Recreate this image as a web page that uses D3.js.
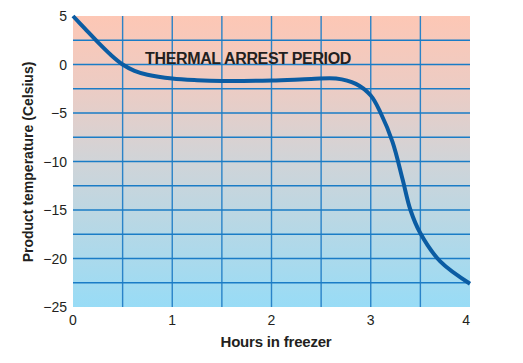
<!DOCTYPE html>
<html><head><meta charset="utf-8">
<script src="https://cdn.jsdelivr.net/npm/d3@7"></script>
<style>
body{margin:0;background:#fff;}
text{font-family:"Liberation Sans",Arial,Helvetica,sans-serif;}
</style></head>
<body><svg id="c" width="523" height="363"></svg>
<script>
const hours = [0, 0.12, 0.25, 0.38, 0.5, 0.62, 0.75, 1.0, 1.25, 1.5, 2.0, 2.4, 2.65, 2.85, 3.0, 3.1, 3.22, 3.32, 3.4, 3.5, 3.7, 4.0];
const temps = [5, 3.7, 2.3, 1.0, 0, -0.65, -1.05, -1.45, -1.62, -1.7, -1.65, -1.5, -1.45, -2.0, -3.2, -5.0, -8.0, -11.8, -15.0, -17.4, -20.3, -22.6];
const xTicks = [0, 1, 2, 3, 4];
const yTicks = [5, 0, -5, -10, -15, -20, -25];
const xGrid = [0.5, 1, 1.5, 2, 2.5, 3, 3.5];
const yGrid = [2.5, 0, -2.5, -5, -7.5, -10, -12.5, -15, -17.5, -20, -22.5];
const title = "THERMAL ARREST PERIOD";
const xTitle = "Hours in freezer";
const yTitle = "Product temperature (Celsius)";

const L = 73, R = 470, T = 16, B = 307;
const svg = d3.select("#c");
const x = d3.scaleLinear().domain([0, 4]).range([L, R]);
const y = d3.scaleLinear().domain([-25, 5]).range([B, T]);

const defs = svg.append("defs");
const g = defs.append("linearGradient").attr("id", "bg").attr("x1", 0).attr("y1", 0).attr("x2", 0).attr("y2", 1);
g.append("stop").attr("offset", "0%").attr("stop-color", "#fdc7b5");
g.append("stop").attr("offset", "25%").attr("stop-color", "#ecccc4");
g.append("stop").attr("offset", "50%").attr("stop-color", "#d0d4d8");
g.append("stop").attr("offset", "100%").attr("stop-color", "#98dcf6");

svg.append("rect").attr("x", L).attr("y", T).attr("width", R - L).attr("height", B - T).attr("fill", "url(#bg)");

svg.append("g").selectAll("line").data(xGrid).join("line")
  .attr("x1", d => x(d)).attr("x2", d => x(d)).attr("y1", T).attr("y2", B)
  .attr("stroke", "#2a83c8").attr("stroke-width", 1.4);
svg.append("g").selectAll("line").data(yGrid).join("line")
  .attr("y1", d => y(d)).attr("y2", d => y(d)).attr("x1", L).attr("x2", R)
  .attr("stroke", "#1a7cc6").attr("stroke-width", 1.4);

const pts = hours.map((h, i) => [h, temps[i]]);
const line = d3.line().x(d => x(d[0])).y(d => y(d[1])).curve(d3.curveCatmullRom.alpha(0.5));
svg.append("path").attr("d", line(pts)).attr("fill", "none")
  .attr("stroke", "#0b5ca3").attr("stroke-width", 4).attr("stroke-linecap", "butt");

svg.append("text").attr("x", 145).attr("y", 64).attr("font-size", 16).attr("font-weight", "bold")
  .attr("letter-spacing", "-0.35px").attr("fill", "#231f20").text(title);

svg.append("g").selectAll("text").data(yTicks).join("text")
  .attr("x", 67).attr("y", d => y(d) + 5).attr("text-anchor", "end")
  .attr("font-size", 14).attr("fill", "#231f20").text(d => d < 0 ? "\u2212" + Math.abs(d) : d);

svg.append("g").selectAll("text").data(xTicks).join("text")
  .attr("x", d => x(d)).attr("y", 325).attr("text-anchor", (d, i) => i === xTicks.length - 1 ? "end" : "middle")
  .attr("font-size", 14).attr("fill", "#231f20").text(d => d);

svg.append("text").attr("x", 276).attr("y", 347).attr("text-anchor", "middle")
  .attr("font-size", 15).attr("font-weight", "bold").attr("letter-spacing", "-0.2px")
  .attr("fill", "#231f20").text(xTitle);

svg.append("text").attr("transform", "translate(33,162) rotate(-90)").attr("text-anchor", "middle")
  .attr("font-size", 14).attr("font-weight", "bold").attr("fill", "#231f20").text(yTitle);
</script></body></html>
